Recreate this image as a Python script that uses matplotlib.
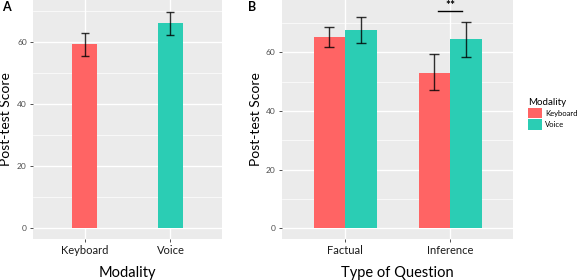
import numpy as np
import matplotlib
matplotlib.use('Agg')
import matplotlib.pyplot as plt
from matplotlib.patches import Patch

plt.rcParams.update({
    'font.family': ['Lato', 'DejaVu Sans'],
    'font.size': 8,
})

# ===================== DATA =====================
modalities = ['Keyboard', 'Voice']
mod_scores = [59.2, 66.0]
mod_lo = [55.5, 62.3]
mod_hi = [62.8, 69.6]

qtypes = ['Factual', 'Inference']
kb_scores = [65.2, 53.1]
kb_lo = [61.8, 47.1]
kb_hi = [68.6, 59.4]
vo_scores = [67.6, 64.5]
vo_lo = [63.3, 58.6]
vo_hi = [72.0, 70.4]
sig_y = 74.1
sig_label = '**'

c_kb = '#FF6464'
c_vo = '#2BCDB4'
bg = '#EBEBEB'


def gg_axes(ax):
    ax.set_facecolor(bg)
    for s in ax.spines.values():
        s.set_visible(False)
    ax.set_yticks([0, 20, 40, 60])
    ax.set_yticks([10, 30, 50, 70], minor=True)
    ax.grid(which='major', color='white', lw=1.0)
    ax.grid(which='minor', axis='y', color='white', lw=0.5)
    ax.set_axisbelow(True)
    ax.tick_params(axis='y', which='major', labelsize=6, length=2.5, width=0.6,
                   color='#333333', labelcolor='#4D4D4D', pad=2)
    ax.tick_params(axis='x', which='major', labelsize=8, length=2.5, width=0.6,
                   color='#333333', labelcolor='#1A1A1A', pad=2)
    ax.tick_params(which='minor', length=0)
    ax.set_ylabel('Post-test Score', fontsize=10)


fig = plt.figure(figsize=(5.82, 2.8), dpi=100)

# ===================== PANEL A =====================
ax1 = fig.add_axes([33 / 582, 41 / 280, 189 / 582, 239 / 280])
x = np.arange(1, len(modalities) + 1)
ax1.bar(x, mod_scores, width=0.3, color=[c_kb, c_vo])
yerr = [np.array(mod_scores) - np.array(mod_lo), np.array(mod_hi) - np.array(mod_scores)]
ax1.errorbar(x, mod_scores, yerr=yerr, fmt='none', ecolor='black', elinewidth=1,
             capsize=2.9, capthick=1, alpha=0.8)
gg_axes(ax1)
ax1.yaxis.set_label_coords(-0.112, 0.5)
ax1.set_xticks(x)
ax1.set_xticklabels(modalities)
ax1.set_xlim(0.4, 2.6)
ax1.set_ylim(-3.4, 73.4)
ax1.set_xlabel('Modality', fontsize=10.5, labelpad=7)

# ===================== PANEL B =====================
ax2 = fig.add_axes([282 / 582, 41 / 280, 231 / 582, 239 / 280])
x = np.arange(1, len(qtypes) + 1)
w = 0.3
ax2.bar(x - w / 2, kb_scores, width=w, color=c_kb)
ax2.bar(x + w / 2, vo_scores, width=w, color=c_vo)
ax2.errorbar(x - w / 2, kb_scores,
             yerr=[np.array(kb_scores) - np.array(kb_lo), np.array(kb_hi) - np.array(kb_scores)],
             fmt='none', ecolor='black', elinewidth=1, capsize=3.6, capthick=1, alpha=0.8)
ax2.errorbar(x + w / 2, vo_scores,
             yerr=[np.array(vo_scores) - np.array(vo_lo), np.array(vo_hi) - np.array(vo_scores)],
             fmt='none', ecolor='black', elinewidth=1, capsize=3.6, capthick=1, alpha=0.8)
ax2.plot([x[1] - 0.11, x[1] + 0.11], [sig_y, sig_y], color='black', lw=1)
ax2.text(x[1], sig_y + 0.2, sig_label, ha='center', va='bottom', fontsize=8.5, fontweight='bold')
gg_axes(ax2)
ax2.yaxis.set_label_coords(-0.088, 0.5)
ax2.set_xticks(x)
ax2.set_xticklabels(qtypes)
ax2.set_xlim(0.4, 2.6)
ax2.set_ylim(-3.65, 77.9)
ax2.set_xlabel('Type of Question', fontsize=10.5, labelpad=7)

# legend
handles = [Patch(facecolor=c_kb, label='Keyboard'), Patch(facecolor=c_vo, label='Voice')]
fig.legend(handles=handles, title='Modality', loc='upper left', bbox_to_anchor=(521 / 582, 1 - 91 / 280),
           frameon=False, fontsize=5.5, title_fontsize=7, handlelength=1.8, handleheight=1.8,
           handletextpad=0.5, labelspacing=0.1, alignment='left')

fig.text(2 / 582, 1 - 1 / 280, 'A', fontsize=9, fontweight='bold', va='top', ha='left')
fig.text(248 / 582, 1 - 1 / 280, 'B', fontsize=9, fontweight='bold', va='top', ha='left')

fig.savefig('out.png', dpi=100)
